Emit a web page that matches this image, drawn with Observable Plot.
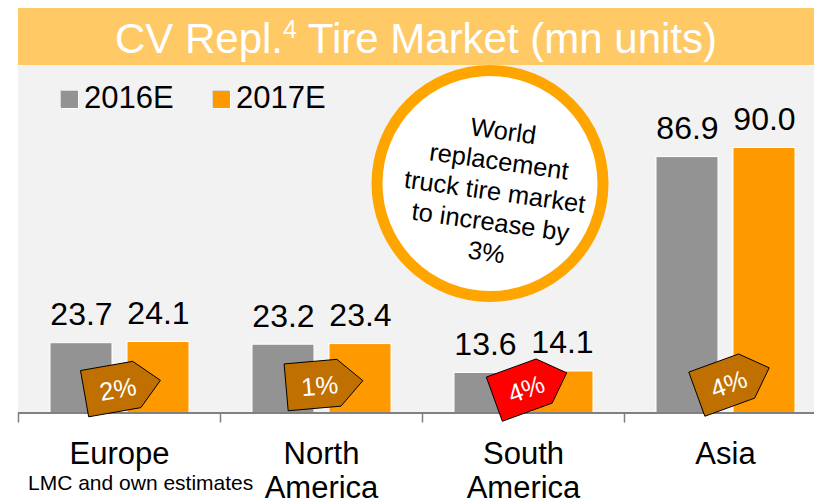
<!DOCTYPE html>
<html>
<head>
<meta charset="utf-8">
<script src="https://cdn.jsdelivr.net/npm/d3@7"></script>
<script src="https://cdn.jsdelivr.net/npm/@observablehq/plot@0.6"></script>
<style>
  html, body { margin: 0; padding: 0; background: #ffffff; overflow: hidden; }
  #wrap { position: relative; width: 814px; height: 504px; overflow: hidden; font-family: "Liberation Sans", Arial, sans-serif; }
  #plotbg { position: absolute; left: 18px; top: 65px; width: 796px; height: 347.5px; background: #F2F2F2; z-index: 0; }
  #banner { position: absolute; left: 18px; top: 8px; width: 796px; height: 57px; background: #FFC966; z-index: 3; }
  #title { position: absolute; left: 18px; width: 796px; top: 17.5px; text-align: center; color: #ffffff; font-size: 42px; line-height: 1; white-space: nowrap; z-index: 4; }
  #title sup { font-size: 25px; vertical-align: 15px; line-height: 0; }
  #chart { position: absolute; left: 0; top: 65px; width: 826px; z-index: 1; }
  .leg { position: absolute; z-index: 4; font-size: 31px; line-height: 1; color: #000; white-space: nowrap; }
  .sw { position: absolute; z-index: 4; width: 17px; height: 17px; box-shadow: 1px 1px 0 #ffffff, -1px -1px 0 #d8d8d8; }
  #foot { position: absolute; left: 28px; top: 472px; font-size: 21px; line-height: 1; color: #000; white-space: nowrap; z-index: 4; }
</style>
</head>
<body>
<div id="wrap">
  <div id="plotbg"></div>
  <div id="banner"></div>
  <div id="title"></div>
  <div id="legend"></div>
  <div id="chart"></div>
  <div id="foot"></div>
</div>
<script>
// ---------- data ----------
const regions = ["Europe", "North America", "South America", "Asia"];
const regionLabels = ["Europe", "North\nAmerica", "South\nAmerica", "Asia"];
const years = ["2016E", "2017E"];
const values2016 = [23.7, 23.2, 13.6, 86.9];
const values2017 = [24.1, 23.4, 14.1, 90.0];
const growth = ["2%", "1%", "4%", "4%"];
const growthHighlight = [false, false, true, false];
const calloutText = "World\nreplacement\ntruck tire market\nto increase by\n3%";
const calloutRegion = "South America";
const titleMain = "CV Repl.";
const titleSup = "4";
const titleRest = " Tire Market (mn units)";
const footnote = "LMC and own estimates";

// ---------- layout / style ----------
const colors = ["#939393", "#FF9900"];
const badgeDx = [3, 3, 7, 7.5];
const badgeDy = [-26, -29, -27, -32];
const badgeAngle = [-10, -5, -20, -20];
const font = "Liberation Sans, Arial, sans-serif";

const rows = regions.flatMap((r, i) => [
  {region: r, year: years[0], value: values2016[i]},
  {region: r, year: years[1], value: values2017[i]}
]);
const labelRows = regions.map((r, i) => ({region: r, label: regionLabels[i]}));

function badgeSymbol(angleDeg) {
  const a = angleDeg * Math.PI / 180, c = Math.cos(a), s = Math.sin(a);
  const pts = [[-38.5, -23.5], [14.5, -23.5], [38.5, 0], [14.5, 23.5], [-38.5, 23.5]];
  return {
    draw(ctx) {
      pts.forEach(([x, y], k) => {
        const X = x * c - y * s, Y = x * s + y * c;
        if (k === 0) ctx.moveTo(X, Y); else ctx.lineTo(X, Y);
      });
      ctx.closePath();
    }
  };
}
const tickShape = { draw(ctx, l) { ctx.moveTo(0, 0); ctx.lineTo(0, -l); } };

const badgeMarks = regions.flatMap((r, i) => {
  const a = badgeAngle[i] * Math.PI / 180;
  const tx = -5 * Math.cos(a) - 2 * Math.sin(a), ty = -5 * Math.sin(a) + 2 * Math.cos(a);
  return [
    Plot.dot([{region: r}], {
      fx: "region", frameAnchor: "bottom", dx: badgeDx[i], dy: badgeDy[i], r: 10,
      symbol: badgeSymbol(badgeAngle[i]),
      fill: growthHighlight[i] ? "#FF0000" : "#C07000", stroke: "#000000", strokeWidth: 1
    }),
    Plot.text([{region: r, g: growth[i]}], {
      fx: "region", frameAnchor: "bottom", lineAnchor: "middle", text: "g",
      dx: badgeDx[i] + tx, dy: badgeDy[i] + ty, rotate: badgeAngle[i],
      fill: "#ffffff", fontSize: 25.5, fontFamily: font
    })
  ];
});

const chart = Plot.plot({
  width: 826,
  height: 439,
  marginLeft: 18,
  marginRight: 0,
  marginTop: 0,
  marginBottom: 91.5,
  style: `max-width:none;overflow:visible;background:transparent;font-family:${font};`,
  fx: {domain: regions, padding: 0, axis: null},
  x: {domain: years, paddingInner: 0.195, paddingOuter: 0.409, axis: null},
  y: {domain: [0, 118], axis: null},
  color: {domain: years, range: colors},
  marks: [
    Plot.barY(rows, {fx: "region", x: "year", y: "value", fill: "year", stroke: "#ffffff", strokeWidth: 1}),
    Plot.text(rows, {
      fx: "region", x: "year", y: "value", text: d => d3.format(".1f")(d.value),
      lineAnchor: "bottom", dy: -18, fontSize: 32, fill: "#000000", fontFamily: font
    }),
    Plot.ruleY([0], {stroke: "#808080", strokeWidth: 2}),
    Plot.vector(labelRows, {
      fx: "region", frameAnchor: "bottom-left", length: 9, rotate: 180, anchor: "start",
      shape: tickShape, stroke: "#808080", strokeWidth: 1.5
    }),
    Plot.text(labelRows, {
      fx: "region", text: "label", frameAnchor: "bottom", lineAnchor: "top", dy: 27,
      fontSize: 31, lineHeight: 1.097, fill: "#000000", fontFamily: font
    }),
    Plot.dot([{region: calloutRegion}], {
      fx: "region", frameAnchor: "top", dx: -33.5, dy: 118, r: 113,
      fill: "#ffffff", stroke: "#FFA500", strokeWidth: 11
    }),
    Plot.text([{region: calloutRegion, t: calloutText}], {
      fx: "region", frameAnchor: "top", lineAnchor: "middle", dx: -28.5, dy: 125, text: "t", rotate: 8,
      fontSize: 25.5, lineHeight: 1.2, fill: "#000000", fontFamily: font
    }),
    ...badgeMarks
  ]
});
document.getElementById("chart").appendChild(chart);

// title, legend, footnote (HTML outside the SVG)
const title = document.getElementById("title");
title.appendChild(document.createTextNode(titleMain));
const sup = document.createElement("sup"); sup.textContent = titleSup; title.appendChild(sup);
title.appendChild(document.createTextNode(titleRest));

const legend = document.getElementById("legend");
const legX = [61, 213];
years.forEach((y, i) => {
  const sw = document.createElement("div");
  sw.className = "sw"; sw.style.left = legX[i] + "px"; sw.style.top = "91px"; sw.style.background = colors[i];
  legend.appendChild(sw);
  const t = document.createElement("div");
  t.className = "leg"; t.style.left = (legX[i] + 23) + "px"; t.style.top = "82px"; t.textContent = y;
  legend.appendChild(t);
});
document.getElementById("foot").textContent = footnote;
</script>
</body>
</html>
